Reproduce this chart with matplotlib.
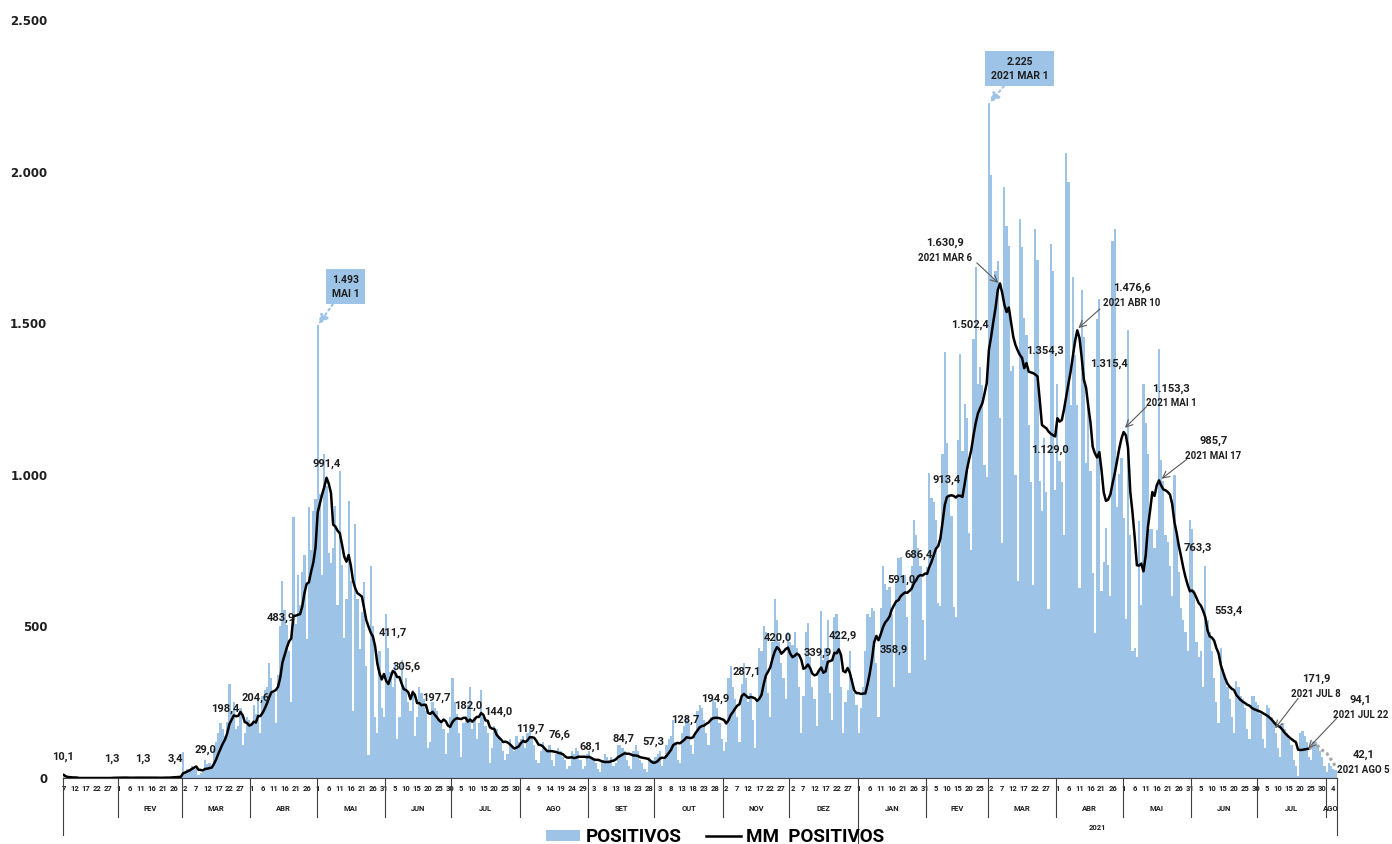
import matplotlib
matplotlib.use("Agg")
import matplotlib.pyplot as plt
from matplotlib.patches import Patch
from matplotlib.lines import Line2D
import numpy as np
import pandas as pd

# daily positive cases (one list per month)
jan20 = [10, 0, 0, 0, 0, 0, 0, 0, 0, 0, 0, 0, 0, 0, 0, 0, 0, 0, 0, 0, 0, 0, 3, 2, 1]
feb20 = [1, 0, 2, 1, 0, 1, 2, 3, 1, 0, 1, 2, 1, 0, 1, 2, 1, 0, 0, 1, 2, 2, 3, 1, 4, 3, 5, 4, 6]
mar20 = [85, 20, 30, 25, 40, 35, 30, 10, 15, 20, 60, 45, 50, 40, 95, 120, 150, 180, 160, 140,
         185, 310, 220, 250, 160, 170, 230, 110, 150, 200, 190]
apr20 = [180, 240, 210, 260, 150, 270, 290, 300, 380, 330, 280, 180, 340, 500, 650, 555, 505,
         420, 250, 860, 507, 671, 569, 680, 735, 460, 895, 752, 881, 919]
may20 = [1493, 938, 670, 1070, 962, 741, 709, 758, 896, 572, 1014, 703, 461, 590, 912, 651,
         222, 839, 591, 426, 548, 646, 371, 75, 700, 500, 200, 150, 420, 230, 200]
jun20 = [540, 430, 350, 300, 380, 130, 200, 390, 300, 330, 250, 220, 290, 140, 200, 300, 280,
         260, 220, 100, 120, 250, 230, 220, 190, 180, 160, 80, 150, 200]
jul20 = [330, 250, 210, 150, 70, 180, 200, 240, 300, 160, 200, 130, 180, 290, 200, 170, 150,
         50, 100, 170, 160, 140, 120, 90, 60, 80, 130, 110, 90, 140, 120]
aug20 = [130, 140, 100, 150, 160, 140, 110, 60, 50, 90, 120, 100, 90, 110, 60, 40, 80, 100,
         90, 70, 60, 30, 40, 90, 80, 100, 90, 60, 30, 40, 80]
sep20 = [90, 70, 60, 50, 30, 20, 60, 80, 70, 60, 70, 40, 50, 110, 110, 100, 90, 60, 40, 30,
         90, 110, 90, 60, 50, 30, 20, 70, 60, 60]
oct20 = [70, 80, 90, 40, 60, 110, 130, 140, 190, 120, 60, 50, 150, 170, 200, 180, 110, 80,
         140, 220, 240, 230, 190, 150, 110, 200, 260, 250, 230, 180, 130]
nov20 = [90, 120, 330, 370, 300, 260, 200, 120, 310, 380, 330, 250, 280, 190, 100, 250, 430,
         420, 500, 480, 280, 200, 450, 590, 520, 450, 380, 330, 260, 480]
dec20 = [450, 440, 480, 430, 300, 150, 270, 480, 510, 400, 300, 260, 170, 360, 550, 390, 430,
         520, 280, 190, 530, 540, 480, 300, 150, 250, 290, 420, 330, 280, 240]
jan21 = [150, 230, 300, 420, 540, 530, 560, 550, 380, 200, 560, 700, 640, 620, 630, 540, 300,
         650, 725, 730, 670, 670, 530, 345, 700, 850, 800, 760, 700, 520, 390]
feb21 = [695, 1005, 922, 911, 852, 577, 568, 1070, 1405, 1106, 936, 865, 563, 530,
         1116, 1399, 1080, 1234, 1186, 808, 751, 1449, 1687, 1300, 1357, 1296, 1033, 992]
mar21 = [2225, 1988, 1650, 1672, 1704, 1187, 775, 1950, 1820, 1755, 1343, 1359, 998, 649,
         1845, 1750, 1517, 1462, 1163, 977, 635, 1810, 1708, 978, 881, 1121, 942, 558,
         1761, 1673, 950]
apr21 = [1301, 1044, 977, 803, 2062, 1967, 1230, 1651, 1394, 1229, 628, 1610, 1455, 1038,
         1227, 1011, 675, 478, 1515, 1580, 616, 712, 823, 703, 600, 1770, 1810, 894, 1002, 1055]
may21 = [857, 526, 1479, 800, 420, 430, 400, 849, 572, 1300, 1170, 1070, 820, 820, 760, 817,
         1415, 1050, 980, 800, 780, 700, 600, 1000, 800, 680, 560, 520, 480, 420, 850]
jun21 = [820, 620, 450, 400, 420, 300, 700, 520, 480, 420, 330, 250, 180, 430, 360, 330, 300,
         260, 200, 150, 320, 300, 270, 260, 230, 160, 130, 270, 270, 250]
jul21 = [240, 210, 130, 100, 240, 230, 200, 180, 150, 100, 70, 180, 160, 150, 130, 110, 60,
         40, 5, 150, 155, 140, 120, 70, 60, 120, 120, 110, 90, 70, 40]
aug21 = [20, 50, 40, 30, 25]

months_pt = ["JAN", "FEV", "MAR", "ABR", "MAI", "JUN", "JUL", "AGO", "SET", "OUT", "NOV", "DEZ"]

# labelled moving-average values: text, day index, height
mm_labels = [
    ("10,1", -0.2, 69), ("1,3", 21.7, 63), ("1,3", 36, 63), ("3,4", 50.4, 63),
    ("29,0", 64, 92), ("198,4", 73, 228), ("204,6", 87.1, 265), ("483,9", 98.4, 527),
    ("991,4", 119.1, 1036), ("411,7", 149.1, 478), ("305,6", 155.3, 367),
    ("197,7", 168.9, 264), ("182,0", 183.1, 238), ("144,0", 196.7, 218),
    ("119,7", 211.1, 163), ("76,6", 224.7, 142), ("68,1", 238.3, 103), ("84,7", 253.4, 129),
    ("57,3", 267, 120), ("128,7", 281.3, 191), ("194,9", 294.9, 260), ("287,1", 309.3, 349),
    ("420,0", 323.6, 461), ("339,9", 341.7, 413), ("422,9", 353, 468), ("358,9", 375.7, 422),
    ("591,0", 379.5, 655), ("686,4", 387, 735), ("913,4", 399.9, 983),
    ("1.502,4", 410.4, 1495), ("1.354,3", 444.4, 1408), ("1.129,0", 446.6, 1083),
    ("1.315,4", 473.5, 1366), ("763,3", 513.4, 759), ("553,4", 527.7, 551),
]
# peaks with date: value, date, text pos, arrow tail, arrow head
mm_peaks = [
    ("1.630,9", "2021 MAR 6", (399.1, 1765), (413.5, 1699), (423.2, 1633)),
    ("1.476,6", "2021 ABR 10", (483.6, 1617), (469.3, 1547), (459.5, 1484)),
    ("1.153,3", "2021 MAI 1", (501.6, 1285), (490.4, 1225), (480.6, 1155)),
    ("985,7", "2021 MAI 17", (520.6, 1111), (508.6, 1051), (497.2, 987)),
    ("171,9", "2021 JUL 8", (567.1, 326), (559.1, 263), (548.6, 164)),
    ("94,1", "2021 JUL 22", (587.2, 257), (576.5, 197), (563.6, 98)),
    ("42,1", "2021 AGO 5", (588.5, 76), None, None),
]

BAR_COLOR = "#9DC3E6"
TXT = "#1F1F1F"
LFONT = ["Roboto", "DejaVu Sans"]

dates = pd.date_range("2020-01-07", "2021-08-05", freq="D")
positivos = np.array(jan20 + feb20 + mar20 + apr20 + may20 + jun20 + jul20 + aug20 + sep20 +
                     oct20 + nov20 + dec20 + jan21 + feb21 + mar21 + apr21 + may21 + jun21 +
                     jul21 + aug21, dtype=float)
assert len(positivos) == len(dates)
mm = pd.Series(positivos).rolling(7, min_periods=1).mean().to_numpy()
x = np.arange(len(dates))
n = len(x)

fig = plt.figure(figsize=(13.92, 8.44), dpi=100)
ax = fig.add_axes([0.04504, 0.0782, 0.91523, 0.8981])

ax.bar(x, positivos, width=1.0, color=BAR_COLOR, linewidth=0, zorder=1)
cut = dates.get_loc(pd.Timestamp("2021-07-24"))
ax.plot(x[:cut + 1], mm[:cut + 1], color="black", lw=1.8, zorder=3)
ax.plot(x[cut:], mm[cut:], color="#A6A6A6", lw=2.2, linestyle=(0, (1, 1)), zorder=3)

ax.set_xlim(-0.5, n - 0.5)
ax.set_ylim(0, 2500)

for s in ["top", "right", "left"]:
    ax.spines[s].set_visible(False)
ax.spines["bottom"].set_color("#404040")
ax.spines["bottom"].set_linewidth(0.8)

yt = np.arange(0, 2501, 500)
ax.set_yticks(yt)
ax.set_yticklabels([f"{v:,}".replace(",", ".") for v in yt], family="DejaVu Sans",
                   fontweight="bold", fontsize=8.5, color=TXT)
ax.tick_params(axis="y", length=0, pad=11)

ax.set_xticks(x[::5])
ax.set_xticklabels([str(d.day) for d in dates[::5]], family=LFONT, fontweight="bold",
                   fontsize=5.5, color=TXT)
ax.tick_params(axis="x", length=0, pad=5)

# multi level category axis: separators, months, year
trans = ax.get_xaxis_transform()
ax_h = 758.0
starts = [i for i, d in enumerate(dates) if d.day == 1]
bounds = [-0.5] + [i - 0.5 for i in starts] + [n - 0.5]
year_start = dates.get_loc(pd.Timestamp("2021-01-01")) - 0.5
for b in bounds:
    if b in (-0.5, n - 0.5):
        yb = -57 / ax_h
    elif b == year_start:
        yb = -70 / ax_h
    else:
        yb = -39 / ax_h
    ax.plot([b, b], [0, yb], transform=trans, color="#404040", lw=0.8, clip_on=False)

groups = pd.Series(x).groupby([dates.year, dates.month])
for (yr, mo), idx in groups:
    if yr == 2020 and mo == 1:
        continue
    c = (idx.min() + idx.max()) / 2
    ax.text(c, -31 / ax_h, months_pt[mo - 1], transform=trans, ha="center", va="center",
            family=LFONT, fontweight="bold", fontsize=5.5, color=TXT)
i21 = x[dates.year == 2021]
ax.text((i21.min() + i21.max()) / 2, -50 / ax_h, "2021", transform=trans, ha="center",
        va="center", family=LFONT, fontweight="bold", fontsize=5.5, color=TXT)

# moving-average labels
for txt, xi, yv in mm_labels:
    ax.text(xi, yv, txt, ha="center", va="center", family=LFONT, fontweight="bold",
            fontsize=8, color=TXT, zorder=5, clip_on=False)

for val, dlab, (tx, ty), tail, head in mm_peaks:
    ax.text(tx, ty, val, ha="center", va="center", family=LFONT, fontweight="bold",
            fontsize=8, color=TXT, zorder=5, clip_on=False)
    ax.text(tx, ty - 49, dlab, ha="center", va="center", family=LFONT, fontweight="bold",
            fontsize=7, color=TXT, zorder=5, clip_on=False)
    if tail is not None:
        ax.annotate("", xy=head, xytext=tail,
                    arrowprops=dict(arrowstyle="->", color="#595959", lw=0.8,
                                    mutation_scale=12, shrinkA=0, shrinkB=0),
                    zorder=6, annotation_clip=False)

# callouts for the daily maxima
callouts = [("1.493\nMAI 1", 115, (127.6, 1621)),
            ("2.225\n2021 MAR 1", 419, (432.8, 2340))]
for txt, xi, pos in callouts:
    ax.annotate(txt, xy=(xi, positivos[xi]), xytext=pos, ha="center", va="center",
                family=LFONT, fontweight="bold", fontsize=7.5, color=TXT, linespacing=1.5,
                bbox=dict(boxstyle="square,pad=0.55", fc=BAR_COLOR, ec="none"),
                arrowprops=dict(arrowstyle="-|>", color=BAR_COLOR, lw=1.5, linestyle=":",
                                mutation_scale=14, shrinkA=0, shrinkB=1),
                zorder=6, annotation_clip=False)

handles = [Patch(facecolor=BAR_COLOR, edgecolor="none"),
           Line2D([], [], color="black", lw=1.8)]
fig.legend(handles, ["POSITIVOS", "MM  POSITIVOS"], loc="center",
           bbox_to_anchor=(715 / 1392, 1 - 837 / 844), ncol=2, frameon=False,
           prop={"family": LFONT, "weight": "bold", "size": 13.5},
           handlelength=1.85, handleheight=0.5, handletextpad=0.3, columnspacing=1.3)

fig.savefig("out.png", dpi=100)
